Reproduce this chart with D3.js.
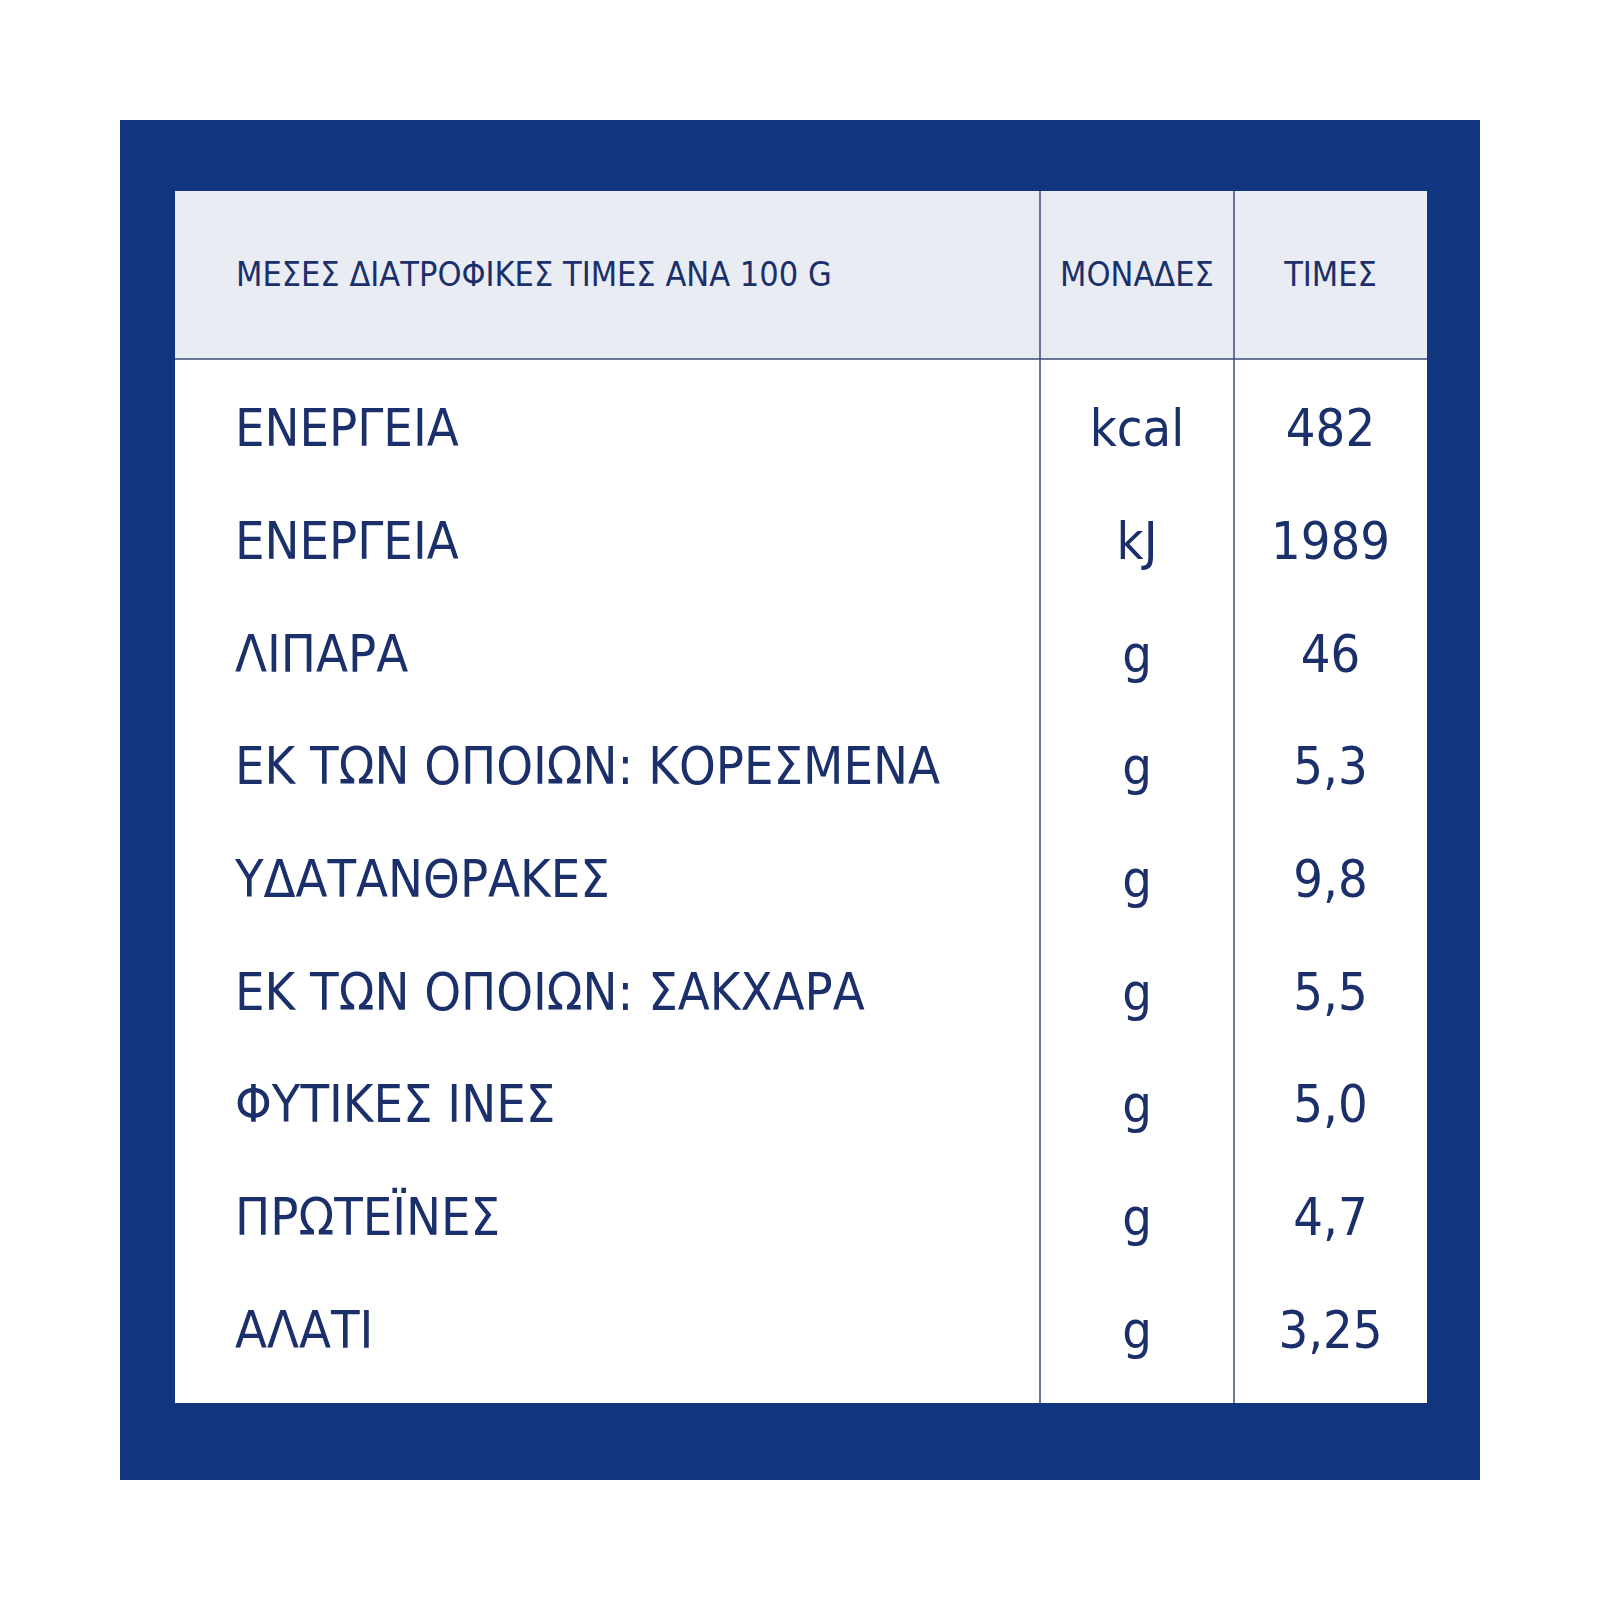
<!DOCTYPE html>
<html><head><meta charset="utf-8">
<script src="https://cdn.jsdelivr.net/npm/d3@7"></script>
<style>body{margin:0;background:#fff}</style></head>
<body><svg id="c" width="1600" height="1600"></svg>
<script>
const headers = ["ΜΕΣΕΣ ΔΙΑΤΡΟΦΙΚΕΣ ΤΙΜΕΣ ΑΝΑ 100 G", "ΜΟΝΑΔΕΣ", "ΤΙΜΕΣ"];
const nutrients = ["ΕΝΕΡΓΕΙΑ","ΕΝΕΡΓΕΙΑ","ΛΙΠΑΡΑ","ΕΚ ΤΩΝ ΟΠΟΙΩΝ: ΚΟΡΕΣΜΕΝΑ","ΥΔΑΤΑΝΘΡΑΚΕΣ","ΕΚ ΤΩΝ ΟΠΟΙΩΝ: ΣΑΚΧΑΡΑ","ΦΥΤΙΚΕΣ ΙΝΕΣ","ΠΡΩΤΕΪΝΕΣ","ΑΛΑΤΙ"];
const units = ["kcal","kJ","g","g","g","g","g","g","g"];
const values = ["482","1989","46","5,3","9,8","5,5","5,0","4,7","3,25"];

const svg = d3.select("#c");
const navy = "#12357f", text = "#1b2f6b", line = "#3a4a7a";
const font = "'Liberation Sans Narrow','DejaVu Sans Condensed','Liberation Sans',sans-serif";
svg.append("rect").attr("x",120).attr("y",120).attr("width",1360).attr("height",1360).attr("fill",navy);
const L=175, R=1427, T=191, HB=359, B=1403, c1=1040, c2=1234;
svg.append("rect").attr("x",L).attr("y",T).attr("width",R-L).attr("height",B-T).attr("fill","#fff");
svg.append("rect").attr("x",L).attr("y",T).attr("width",R-L).attr("height",HB-T).attr("fill","#e9ecf3");
svg.append("line").attr("x1",L).attr("x2",R).attr("y1",HB).attr("y2",HB).attr("stroke",line).attr("stroke-width",1.5);
[c1,c2].forEach(x=>svg.append("line").attr("x1",x).attr("x2",x).attr("y1",T).attr("y2",B).attr("stroke",line).attr("stroke-width",1.5));

const y = d3.scaleBand().domain(d3.range(nutrients.length)).range([373,1387]);
const hx = [236,(c1+c2)/2,(c2+R)/2], anch=["start","middle","middle"];
headers.forEach((h,i)=>svg.append("text").attr("x",hx[i]).attr("y",(T+HB)/2+11).attr("text-anchor",anch[i])
  .attr("font-family",font).attr("font-size",34).attr("fill",text).text(h));
const g = svg.selectAll("g.row").data(nutrients).join("g").attr("transform",(d,i)=>`translate(0,${y(i)+y.bandwidth()/2+17})`);
g.append("text").attr("x",235).attr("font-family",font).attr("font-size",52).attr("fill",text).text(d=>d);
g.append("text").attr("x",(c1+c2)/2).attr("text-anchor","middle").attr("font-family",font).attr("font-size",52).attr("fill",text).text((d,i)=>units[i]);
g.append("text").attr("x",(c2+R)/2).attr("text-anchor","middle").attr("font-family",font).attr("font-size",52).attr("fill",text).text((d,i)=>values[i]);
</script></body></html>
